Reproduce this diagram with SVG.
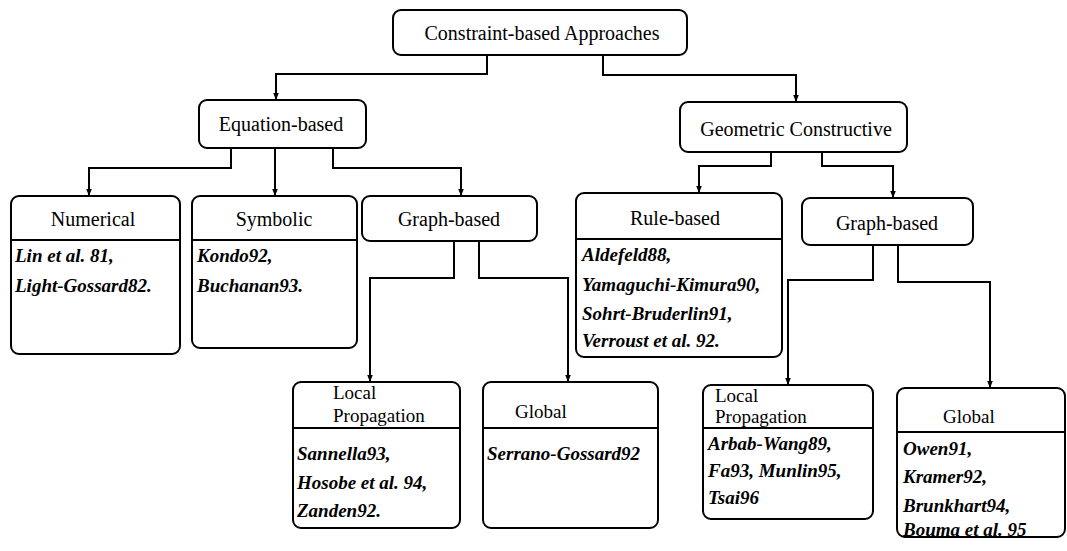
<svg xmlns="http://www.w3.org/2000/svg" width="1067" height="551" viewBox="0 0 1067 551">
<style>
.box{fill:#fff;stroke:#000;stroke-width:2}
.div{stroke:#000;stroke-width:2}
.h{font-family:"Liberation Serif","Times New Roman",serif;font-size:20px;fill:#000}
.h19{font-family:"Liberation Serif","Times New Roman",serif;font-size:19px;fill:#000}
.c{font-family:"Liberation Serif","Times New Roman",serif;font-size:19px;font-style:italic;font-weight:bold;fill:#000}
.m{text-anchor:middle}
.con{fill:none;stroke:#000;stroke-width:2}
</style>
<defs>
<marker id="arr" viewBox="0 0 10 10" refX="10" refY="5" markerWidth="8" markerHeight="7" markerUnits="userSpaceOnUse" orient="auto">
<path d="M0,1 L10,5 L0,9 Z" fill="#000"/>
</marker>
</defs>
<rect width="1067" height="551" fill="#fff"/>
<g id="connectors">
<path class="con" d="M487,55 V74 H276 V100" marker-end="url(#arr)"/>
<path class="con" d="M603,55 V75 H796 V102" marker-end="url(#arr)"/>
<path class="con" d="M231,148 V168 H89 V196" marker-end="url(#arr)"/>
<path class="con" d="M275,148 V196" marker-end="url(#arr)"/>
<path class="con" d="M333,148 V168 H461 V196" marker-end="url(#arr)"/>
<path class="con" d="M771,152 V166 H699 V193" marker-end="url(#arr)"/>
<path class="con" d="M822,152 V166 H893 V198" marker-end="url(#arr)"/>
<path class="con" d="M454,241 V278 H370 V382" marker-end="url(#arr)"/>
<path class="con" d="M479,241 V278 H568 V382" marker-end="url(#arr)"/>
<path class="con" d="M873,245 V280 H788 V385" marker-end="url(#arr)"/>
<path class="con" d="M898,245 V282 H990 V388" marker-end="url(#arr)"/>
</g>
<g id="root">
<rect class="box" x="393" y="10" width="294" height="45" rx="8"/>
<text class="h m" x="542" y="40" font-size="21.5">Constraint-based Approaches</text>
</g>
<g id="equation">
<rect class="box" x="199" y="100" width="167" height="48" rx="8"/>
<text class="h m" x="281" y="131" font-size="20.5">Equation-based</text>
</g>
<g id="geometric">
<rect class="box" x="680" y="102" width="227" height="50" rx="8"/>
<text class="h m" x="796" y="136" font-size="21.5">Geometric Constructive</text>
</g>
<g id="numerical">
<rect class="box" x="11" y="196" width="169" height="158" rx="8"/>
<line class="div" x1="11" y1="240" x2="180" y2="240"/>
<text class="h m" x="93" y="226" font-size="21">Numerical</text>
<text class="c" x="15" y="262">Lin et al. 81,</text>
<text class="c" x="15" y="292">Light-Gossard82.</text>
</g>
<g id="symbolic">
<rect class="box" x="192" y="196" width="165" height="152" rx="8"/>
<line class="div" x1="192" y1="240" x2="357" y2="240"/>
<text class="h m" x="274" y="226" font-size="21">Symbolic</text>
<text class="c" x="197" y="262">Kondo92,</text>
<text class="c" x="197" y="292">Buchanan93.</text>
</g>
<g id="graph-eq">
<rect class="box" x="362" y="196" width="175" height="45" rx="8"/>
<text class="h m" x="449" y="226">Graph-based</text>
</g>
<g id="rule">
<rect class="box" x="576" y="193" width="206" height="164" rx="8"/>
<line class="div" x1="576" y1="239" x2="782" y2="239"/>
<text class="h m" x="675" y="225">Rule-based</text>
<text class="c" x="582" y="261">Aldefeld88,</text>
<text class="c" x="582" y="291">Yamaguchi-Kimura90,</text>
<text class="c" x="582" y="320">Sohrt-Bruderlin91,</text>
<text class="c" x="582" y="347">Verroust et al. 92.</text>
</g>
<g id="graph-geo">
<rect class="box" x="802" y="198" width="171" height="47" rx="8"/>
<text class="h m" x="887" y="230">Graph-based</text>
</g>
<g id="local-eq">
<rect class="box" x="293" y="382" width="167" height="146" rx="8"/>
<line class="div" x1="293" y1="428" x2="460" y2="428"/>
<text class="h19" x="333" y="399">Local</text>
<text class="h19" x="333" y="422">Propagation</text>
<text class="c" x="297" y="460">Sannella93,</text>
<text class="c" x="297" y="489">Hosobe et al. 94,</text>
<text class="c" x="297" y="517">Zanden92.</text>
</g>
<g id="global-eq">
<rect class="box" x="483" y="382" width="175" height="146" rx="8"/>
<line class="div" x1="483" y1="428" x2="658" y2="428"/>
<text class="h19" x="515" y="418">Global</text>
<text class="c" x="487" y="460">Serrano-Gossard92</text>
</g>
<g id="local-geo">
<rect class="box" x="703" y="385" width="170" height="134" rx="8"/>
<line class="div" x1="703" y1="428" x2="873" y2="428"/>
<text class="h19" x="715" y="402">Local</text>
<text class="h19" x="715" y="423">Propagation</text>
<text class="c" x="708" y="450">Arbab-Wang89,</text>
<text class="c" x="708" y="477">Fa93, Munlin95,</text>
<text class="c" x="708" y="504">Tsai96</text>
</g>
<g id="global-geo">
<rect class="box" x="897" y="388" width="168" height="149" rx="8"/>
<line class="div" x1="897" y1="432" x2="1065" y2="432"/>
<text class="h19" x="943" y="423">Global</text>
<text class="c" x="903" y="455">Owen91,</text>
<text class="c" x="903" y="483">Kramer92,</text>
<text class="c" x="903" y="512">Brunkhart94,</text>
<text class="c" x="903" y="536">Bouma et al. 95</text>
</g>
</svg>
